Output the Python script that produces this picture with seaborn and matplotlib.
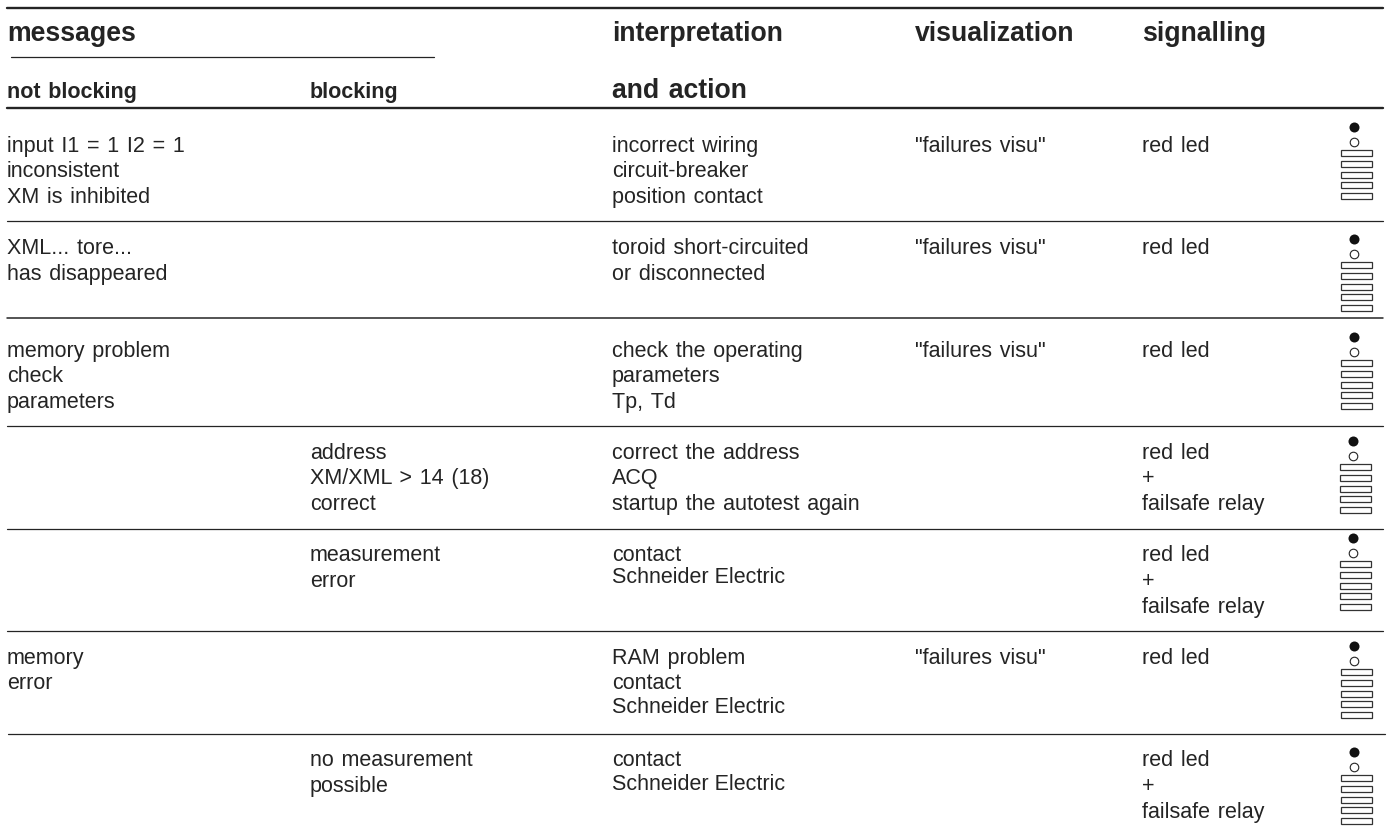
import matplotlib
matplotlib.use('Agg')
import matplotlib.pyplot as plt
import pandas as pd
import seaborn as sns

# table text, one list per column, one entry per row
not_blocking = [
    ['input  I1  =  1  I2  =  1', 'inconsistent', 'XM  is  inhibited'],
    ['XML...  tore...', 'has  disappeared'],
    ['memory  problem', 'check', 'parameters'],
    [],
    [],
    ['memory', 'error'],
    [],
]
blocking = [
    [],
    [],
    [],
    ['address', 'XM/XML  >  14  (18)', 'correct'],
    ['measurement', 'error'],
    [],
    ['no  measurement', 'possible'],
]
action = [
    ['incorrect  wiring', 'circuit-breaker', 'position  contact'],
    ['toroid  short-circuited', 'or  disconnected'],
    ['check  the  operating', 'parameters', 'Tp,  Td'],
    ['correct  the  address', 'ACQ', 'startup  the  autotest  again'],
    ['contact', 'Schneider Electric'],
    ['RAM  problem', 'contact', 'Schneider Electric'],
    ['contact', 'Schneider Electric'],
]
visu = [['"failures  visu"'], ['"failures  visu"'], ['"failures  visu"'], [], [], ['"failures  visu"'], []]
signal = [
    ['red  led'], ['red  led'], ['red  led'],
    ['red  led', '+', 'failsafe  relay'],
    ['red  led', '+', 'failsafe  relay'],
    ['red  led'],
    ['red  led', '+', 'failsafe  relay'],
]

col_x = [7, 310, 612, 915, 1142]
# text baselines in each row
baselines = [
    [152, 177, 203],
    [254, 280],
    [357, 382, 408],
    [459, 484, 510],
    [561, 587, 613],
    [664, 689, 713],
    [766, 792, 818],
]
# Schneider Electric sits a bit tighter under contact
schneider_y = {4: 583, 5: 713, 6: 790}
led_top = [127, 239, 337, 441, 538, 646, 752]
led_x = [1354, 1354, 1354, 1353, 1353, 1354, 1354]
rect_offsets = [26, 37, 48, 58, 69]
rule_x0 = [7, 11, 7, 7, 7, 7, 7, 7, 8]
rule_x1 = [1383, 434, 1383, 1383, 1383, 1383, 1383, 1383, 1385]
rule_y = [8, 57, 108, 221, 318, 426, 529, 631, 734]
rule_w = [1.7, 0.9, 1.7, 0.9, 1.1, 0.9, 0.9, 0.9, 0.9]

INK = '#242424'
GAP = ' \u200a'   # the source has wide word spacing

sns.set_theme(style='white')
plt.rcParams['font.family'] = ['Liberation Sans', 'DejaVu Sans']

fig = plt.figure(figsize=(13.88, 8.30), dpi=100)
ax = fig.add_axes([0, 0, 1, 1])

# rules
for x0, x1, y, lw in zip(rule_x0, rule_x1, rule_y, rule_w):
    df = pd.DataFrame({'x': [x0, x1], 'y': [y, y]})
    sns.lineplot(data=df, x='x', y='y', color=INK, linewidth=lw, ax=ax, legend=False, estimator=None)

# headers
big = dict(fontsize=19.2, fontweight='bold', color=INK, va='baseline')
small = dict(fontsize=15.5, fontweight='bold', color=INK, va='baseline')
ax.text(7, 41, 'messages', **big)
ax.text(612, 41, 'interpretation', **big)
ax.text(915, 41, 'visualization', **big)
ax.text(1142, 41, 'signalling', **big)
ax.text(612, 98, 'and' + GAP + 'action', **big)
ax.text(7, 98, 'not' + GAP + 'blocking', **small)
ax.text(310, 98, 'blocking', **small)

# table body
for col, x in zip([not_blocking, blocking, action, visu, signal], col_x):
    for i, cell in enumerate(col):
        for j, line in enumerate(cell):
            y = baselines[i][j]
            if line.startswith('Schneider'):
                y = schneider_y[i]
            ax.text(x, y, line.replace('  ', GAP), fontsize=15.5, color=INK, va='baseline')

# led symbol in each row
for top, x in zip(led_top, led_x):
    on = pd.DataFrame({'x': [x], 'y': [top]})
    off = pd.DataFrame({'x': [x], 'y': [top + 15]})
    sns.scatterplot(data=on, x='x', y='y', s=52, color='#111111', linewidth=0, ax=ax, legend=False)
    sns.scatterplot(data=off, x='x', y='y', s=38, facecolor='white', edgecolor=INK, linewidth=0.8, ax=ax, legend=False)
    for dy in rect_offsets:
        ax.add_patch(plt.Rectangle((x - 13, top + dy - 3), 31, 6, fill=False, edgecolor='#333333', linewidth=0.9))

ax.set_xlim(0, 1388)
ax.set_ylim(830, 0)
ax.axis('off')
fig.savefig('out.png', dpi=100, facecolor='white')
